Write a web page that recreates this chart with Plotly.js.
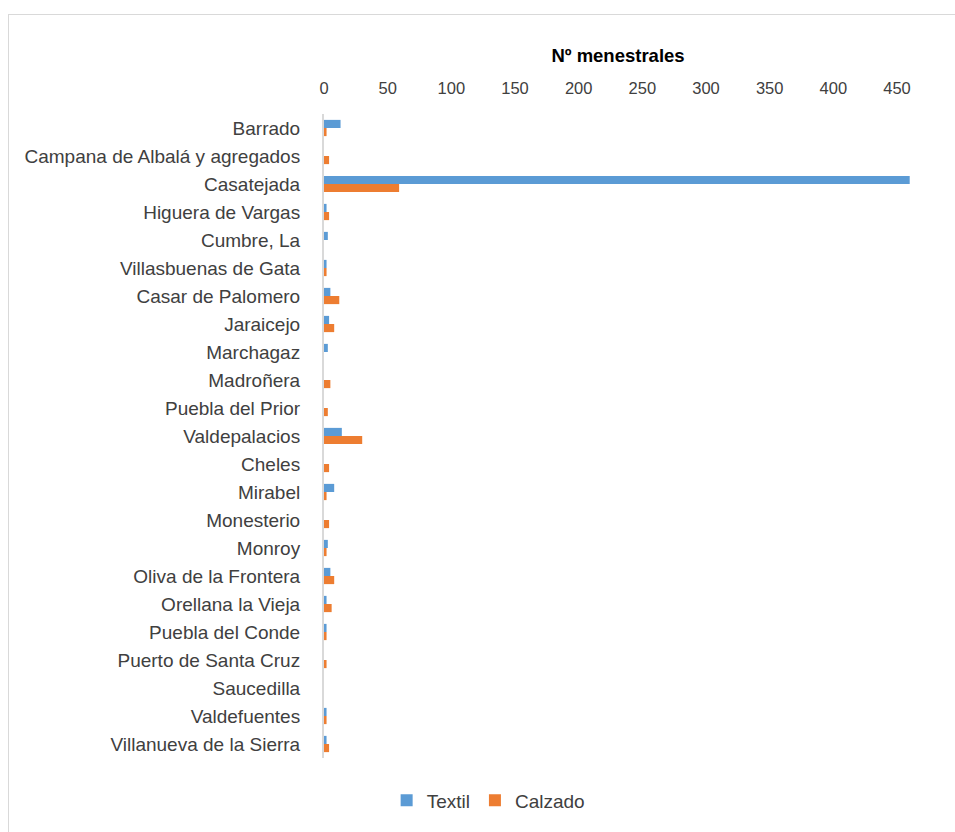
<!DOCTYPE html>
<html>
<head>
<meta charset="utf-8">
<script src="https://cdn.plot.ly/plotly-3.0.1.min.js"></script>
<style>
html,body{margin:0;padding:0;background:#fff;overflow:hidden;width:955px;height:832px;}
#chart{position:absolute;left:0;top:0;width:955px;height:832px;}
#frame{position:absolute;left:8px;top:14px;width:1000px;height:1000px;border:1px solid #d9d9d9;pointer-events:none;}
</style>
</head>
<body>
<div id="chart"></div>
<div id="frame"></div>
<script>
const municipios = ["Barrado","Campana de Albalá y agregados","Casatejada","Higuera de Vargas","Cumbre, La","Villasbuenas de Gata","Casar de Palomero","Jaraicejo","Marchagaz","Madroñera","Puebla del Prior","Valdepalacios","Cheles","Mirabel","Monesterio","Monroy","Oliva de la Frontera","Orellana la Vieja","Puebla del Conde","Puerto de Santa Cruz","Saucedilla","Valdefuentes","Villanueva de la Sierra"];
const textil  = [13,0,460,2,3,2,5,4,3,0,0,14,0,8,0,3,5,2,2,0,0,2,2];
const calzado = [2,4,59,4,0,2,12,8,0,5,3,30,4,2,4,2,8,6,2,2,0,2,4];
const xTicks = [0,50,100,150,200,250,300,350,400,450];

const fontFam = "Liberation Sans, Arial, sans-serif";
const data = [
  {type:'bar', orientation:'h', name:'Textil', y:municipios, x:textil, marker:{color:'#5B9BD5'}},
  {type:'bar', orientation:'h', name:'Calzado', y:municipios, x:calzado, marker:{color:'#ED7D31'}}
];
const layout = {
  width:955, height:832,
  margin:{l:324, r:43, t:114, b:70},
  paper_bgcolor:'#fff', plot_bgcolor:'#fff',
  barmode:'group', bargap:0.42, bargroupgap:0,
  font:{family:fontFam, size:16, color:'#404040'},
  xaxis:{side:'top', range:[0,461.8], tickvals:xTicks, showgrid:false, zeroline:false, showline:false,
    ticks:'outside', ticklen:12, tickcolor:'rgba(0,0,0,0)',
    tickfont:{size:16.5, color:'#404040'},
    title:{text:'<b>Nº menestrales</b>', font:{size:18.5, color:'#000'}, standoff:11}},
  yaxis:{autorange:'reversed', type:'category', showgrid:false, zeroline:false,
    showline:true, linecolor:'#d9d9d9', linewidth:2,
    ticks:'outside', ticklen:18, tickcolor:'rgba(0,0,0,0)',
    tickfont:{size:19, color:'#404040'}},
  legend:{orientation:'h', x:0.28, xanchor:'center', y:-0.066, yanchor:'middle', itemwidth:30,
    font:{size:19, color:'#404040'}},
  showlegend:true
};
Plotly.newPlot('chart', data, layout, {displayModeBar:false, staticPlot:true});
</script>
</body>
</html>
